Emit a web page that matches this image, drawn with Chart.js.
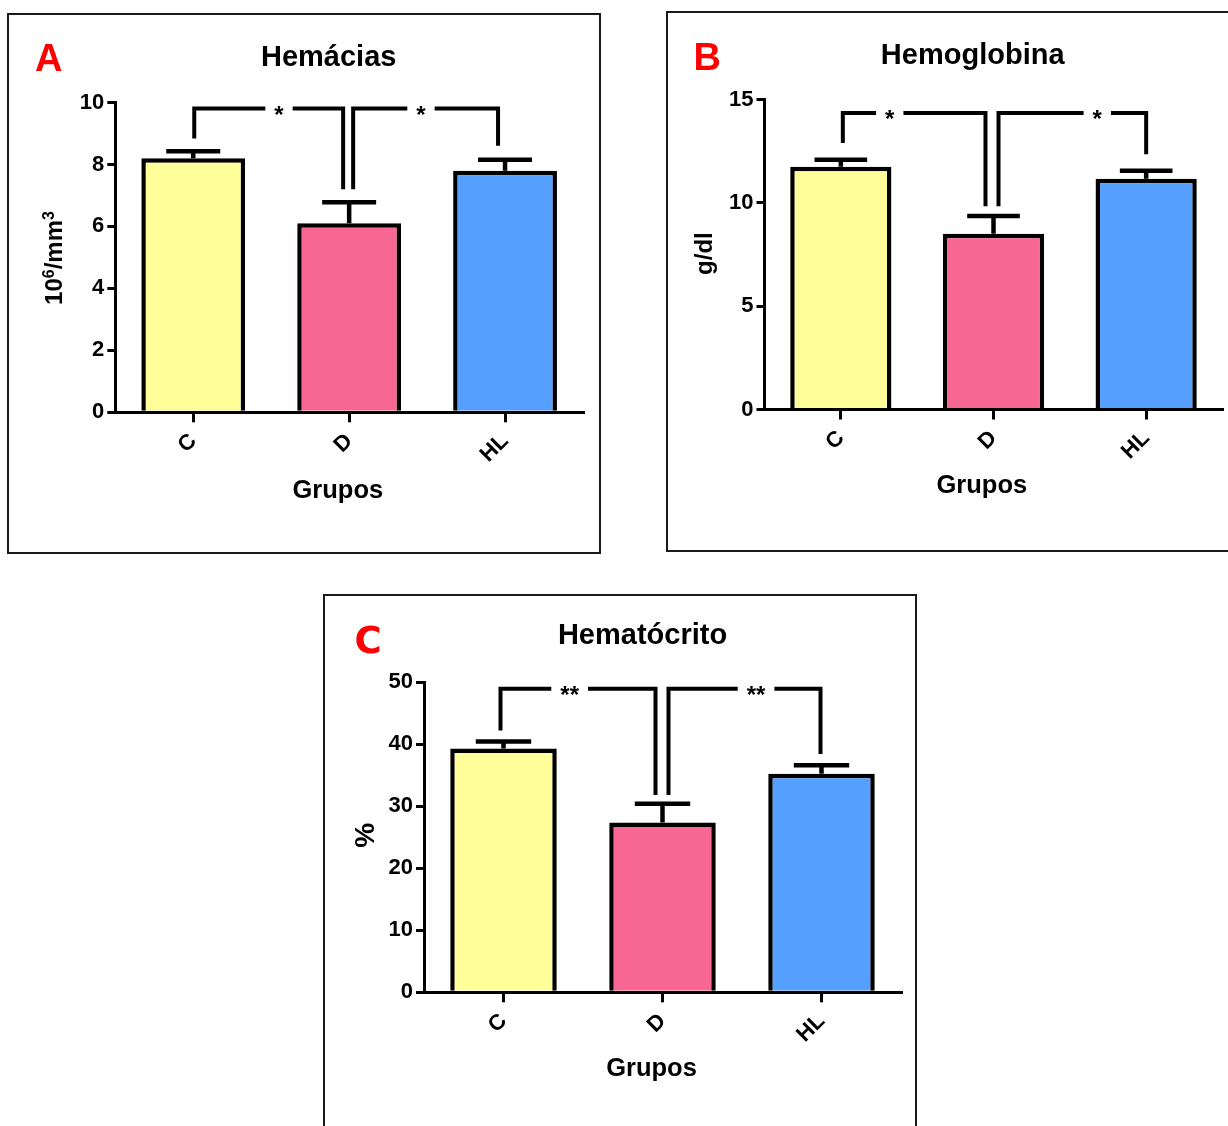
<!DOCTYPE html>
<html lang="pt">
<head>
<meta charset="utf-8">
<title>Hemácias, Hemoglobina e Hematócrito</title>
<script src="https://cdn.jsdelivr.net/npm/chart.js@4.4.1/dist/chart.umd.min.js"></script>
<style>
  html, body { margin: 0; padding: 0; background: #fff; }
  body { position: relative; width: 1228px; height: 1126px; overflow: hidden; }
  .panel { position: absolute; width: 594px; height: 541px; box-sizing: border-box; border: 2px solid #1a1a1a; }
  .panel canvas { position: absolute; left: -2px; top: -2px; }
</style>
</head>
<body>
<div class="panel" style="left:7px;top:13px"><canvas id="chartA" width="594" height="541"></canvas></div>
<div class="panel" style="left:666px;top:11px"><canvas id="chartB" width="594" height="541"></canvas></div>
<div class="panel" style="left:323px;top:594px"><canvas id="chartC" width="594" height="541"></canvas></div>
<script>
// ---- data ----
const groups = ['C', 'D', 'HL'];
const groupColors = ['#ffff99', '#f86794', '#559fff'];

// Hemácias (10^6/mm^3): mean and SEM per group
const hemaciasMean = [8.2, 6.1, 7.8];
const hemaciasSem = [0.23, 0.68, 0.35];
const hemaciasTicks = [0, 2, 4, 6, 8, 10];
// significance: [group 1, group 2, bracket level, leg 1 end, leg 2 end, label]
const hemaciasSig = [
  ['C', 'D', 9.81, 8.84, 7.2, '*'],
  ['D', 'HL', 9.81, 7.2, 8.6, '*']
];

// Hemoglobina (g/dl)
const hemoglobinaMean = [11.74, 8.5, 11.17];
const hemoglobinaSem = [0.35, 0.86, 0.38];
const hemoglobinaTicks = [0, 5, 10, 15];
const hemoglobinaSig = [
  ['C', 'D', 14.35, 12.9, 9.84, '*'],
  ['D', 'HL', 14.35, 9.84, 12.35, '*']
];

// Hematócrito (%)
const hematocritoMean = [39.3, 27.35, 35.2];
const hematocritoSem = [1.1, 3.05, 1.4];
const hematocritoTicks = [0, 10, 20, 30, 40, 50];
const hematocritoSig = [
  ['C', 'D', 48.9, 42.2, 31.8, '**'],
  ['D', 'HL', 48.9, 31.8, 38.4, '**']
];

// ---- drawing ----
const FAMILY = '"Liberation Sans", Arial, Helvetica, sans-serif';
Chart.defaults.font.family = FAMILY;
Chart.defaults.color = '#000';

// upper error bars and significance brackets
const sigMarks = {
  id: 'sigMarks',
  afterDatasetsDraw(chart, args, o) {
    const { ctx } = chart;
    const xs = chart.scales.x, ys = chart.scales.y;
    const ds = chart.data.datasets[0];
    const meta = chart.getDatasetMeta(0);
    ctx.save();
    ctx.strokeStyle = '#000';
    ctx.lineCap = 'butt';
    ctx.lineJoin = 'miter';

    ctx.lineWidth = 4.5;
    meta.data.forEach((bar, i) => {
      const top = ys.getPixelForValue(ds.data[i]);
      const cap = ys.getPixelForValue(ds.data[i] + o.sem[i]);
      const half = bar.width * 0.26;
      ctx.beginPath();
      ctx.moveTo(bar.x, top);
      ctx.lineTo(bar.x, cap);
      ctx.moveTo(bar.x - half, cap);
      ctx.lineTo(bar.x + half, cap);
      ctx.stroke();
    });

    ctx.lineWidth = 4;
    ctx.font = 'bold 24px ' + FAMILY;
    ctx.fillStyle = '#000';
    ctx.textAlign = 'center';
    ctx.textBaseline = 'alphabetic';
    o.sig.forEach((s, k) => {
      const [g1, g2, level, end1, end2, label] = s;
      const shift = o.legShift[k];
      const x1 = xs.getPixelForValue(groups.indexOf(g1)) + shift[0];
      const x2 = xs.getPixelForValue(groups.indexOf(g2)) + shift[1];
      const yTop = ys.getPixelForValue(level);
      const y1 = ys.getPixelForValue(end1);
      const y2 = ys.getPixelForValue(end2);
      const sx = x1 + (x2 - x1) * o.starAt[k];
      const gap = ctx.measureText(label).width / 2 + 9;
      ctx.beginPath();
      ctx.moveTo(x1, y1);
      ctx.lineTo(x1, yTop);
      ctx.lineTo(sx - gap, yTop);
      ctx.moveTo(sx + gap, yTop);
      ctx.lineTo(x2, yTop);
      ctx.lineTo(x2, y2);
      ctx.stroke();
      ctx.fillText(label, sx, yTop + 14.5);
    });
    ctx.restore();
  }
};

// panel letter, title and axis titles
const panelText = {
  id: 'panelText',
  afterDraw(chart, args, o) {
    const { ctx } = chart;
    ctx.save();
    ctx.textBaseline = 'alphabetic';
    ctx.fillStyle = '#ff0000';
    ctx.textAlign = 'left';
    ctx.font = o.letterFont;
    ctx.fillText(o.letter, o.letterPos[0], o.letterPos[1]);

    ctx.fillStyle = '#000';
    ctx.textAlign = 'center';
    ctx.font = 'bold 29px ' + FAMILY;
    ctx.fillText(o.title, o.titlePos[0], o.titlePos[1]);
    ctx.font = 'bold 25.5px ' + FAMILY;
    ctx.fillText('Grupos', o.xTitlePos[0], o.xTitlePos[1]);

    // rotated y title, built from pieces so superscripts can be raised
    ctx.translate(o.yTitlePos[0], o.yTitlePos[1]);
    ctx.rotate(-Math.PI / 2);
    ctx.textAlign = 'left';
    let total = 0;
    const widths = o.yTitle.map(([t, size]) => {
      ctx.font = 'bold ' + size + 'px ' + FAMILY;
      const w = ctx.measureText(t).width;
      total += w;
      return w;
    });
    let cx = -total / 2;
    o.yTitle.forEach(([t, size, rise], i) => {
      ctx.font = 'bold ' + size + 'px ' + FAMILY;
      ctx.fillText(t, cx, -rise);
      cx += widths[i];
    });
    ctx.restore();
  }
};

function makeChart(canvasId, p) {
  const tickFont = { family: FAMILY, size: 22, weight: 'bold' };
  const ticks = p.ticks;
  return new Chart(document.getElementById(canvasId), {
    type: 'bar',
    data: {
      labels: groups,
      datasets: [{
        data: p.mean,
        backgroundColor: groupColors,
        borderColor: '#000',
        borderWidth: 4.5,
        borderSkipped: 'bottom',
        barPercentage: p.barPct,
        categoryPercentage: 1
      }]
    },
    options: {
      responsive: false,
      animation: false,
      events: [],
      layout: {
        autoPadding: false,
        padding: { left: 0, top: p.area.top, right: p.area.right, bottom: 0 }
      },
      plugins: {
        legend: { display: false },
        tooltip: { enabled: false },
        title: { display: false },
        sigMarks: { sem: p.sem, sig: p.sig, legShift: p.legShift, starAt: p.starAt },
        panelText: p.text
      },
      scales: {
        x: {
          type: 'category',
          offset: true,
          z: 1,
          grid: {
            display: true, drawOnChartArea: false, drawTicks: true, offset: false,
            tickLength: 10, tickWidth: 3, tickColor: '#000', lineWidth: 3, color: '#000'
          },
          border: { display: true, color: '#000', width: 3 },
          ticks: { color: '#000', font: tickFont, minRotation: 45, maxRotation: 45, padding: p.xPad, autoSkip: false },
          afterFit: (s) => { s.height = p.area.xh; }
        },
        y: {
          min: ticks[0],
          max: ticks[ticks.length - 1],
          z: 1,
          grid: {
            display: true, drawOnChartArea: false, drawTicks: true,
            tickLength: 8, tickWidth: 3, tickColor: '#000', lineWidth: 3, color: '#000'
          },
          border: { display: true, color: '#000', width: 3 },
          ticks: { color: '#000', font: tickFont, padding: 3 },
          afterBuildTicks: (s) => { s.ticks = ticks.map((v) => ({ value: v })); },
          afterFit: (s) => { s.width = p.area.yw; }
        }
      }
    },
    plugins: [sigMarks, panelText]
  });
}

makeChart('chartA', {
  mean: hemaciasMean, sem: hemaciasSem, ticks: hemaciasTicks, sig: hemaciasSig,
  barPct: 0.666, xPad: 6,
  area: { yw: 108.3, top: 89.5, right: 18, xh: 141.7 },
  legShift: [[1, -6], [4, -7]], starAt: [0.569, 0.468],
  text: {
    letter: 'A', letterFont: 'bold 38px ' + FAMILY, letterPos: [28, 58],
    title: 'Hemácias', titlePos: [321.7, 52.6],
    xTitlePos: [330.8, 485.3],
    yTitle: [['10', 24, 0], ['6', 16, 8.5], ['/mm', 24, 0], ['3', 16, 8.5]],
    yTitlePos: [55, 245]
  }
});

makeChart('chartB', {
  mean: hemoglobinaMean, sem: hemoglobinaSem, ticks: hemoglobinaTicks, sig: hemoglobinaSig,
  barPct: 0.663, xPad: 6,
  area: { yw: 98.5, top: 88.5, right: 37.5, xh: 142.5 },
  legShift: [[2, -8], [5, 0]], starAt: [0.329, 0.669],
  text: {
    letter: 'B', letterFont: 'bold 38px ' + FAMILY, letterPos: [27.5, 59.4],
    title: 'Hemoglobina', titlePos: [306.7, 52.6],
    xTitlePos: [315.8, 482.3],
    yTitle: [['g/dl', 24, 0]],
    yTitlePos: [46, 242.6]
  }
});

makeChart('chartC', {
  mean: hematocritoMean, sem: hematocritoSem, ticks: hematocritoTicks, sig: hematocritoSig,
  barPct: 0.67, xPad: 6,
  area: { yw: 101, top: 88, right: 16, xh: 142.7 },
  legShift: [[-3, -7], [6, -1]], starAt: [0.446, 0.576],
  text: {
    letter: 'C', letterFont: 'bold 37px "DejaVu Sans", Verdana, sans-serif', letterPos: [31.5, 58.6],
    title: 'Hematócrito', titlePos: [319.5, 50],
    xTitlePos: [328.5, 482],
    yTitle: [['%', 28, 0]],
    yTitlePos: [50.5, 241.4]
  }
});
</script>
</body>
</html>
